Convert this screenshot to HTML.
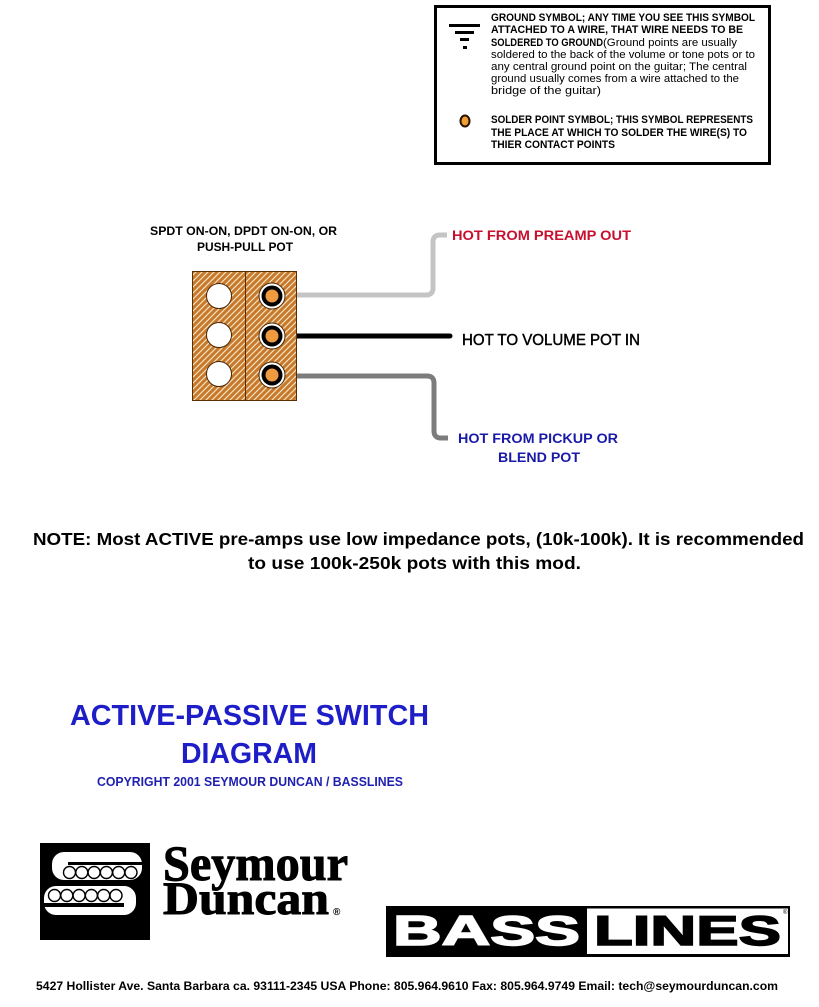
<!DOCTYPE html>
<html>
<head>
<meta charset="utf-8">
<style>
html,body{margin:0;padding:0;background:#fff;}
svg{display:block;}
text{font-family:"Liberation Sans","DejaVu Sans",sans-serif;}
.serif{font-family:"Liberation Serif","DejaVu Serif",serif;}
</style>
</head>
<body>
<svg width="819" height="1007" viewBox="0 0 819 1007" xmlns="http://www.w3.org/2000/svg">
<defs>
<pattern id="hatch" width="6" height="6" patternUnits="userSpaceOnUse">
<rect width="6" height="6" fill="#c8782a"/>
<path d="M-1,1 L1,-1 M0,6 L6,0 M5,7 L7,5" stroke="#f6e2c0" stroke-width="1.2"/>
</pattern>
</defs>
<rect width="819" height="1007" fill="#fff"/>

<!-- Legend box -->
<rect x="435.5" y="6.5" width="334" height="157" fill="none" stroke="#000" stroke-width="3"/>
<rect x="449" y="24" width="31" height="3" fill="#000"/>
<rect x="455" y="31" width="19" height="3" fill="#000"/>
<rect x="460" y="38" width="9" height="3" fill="#000"/>
<rect x="463" y="46" width="4" height="3" fill="#000"/>
<ellipse cx="465" cy="121" rx="4.5" ry="5.5" fill="#f0a030" stroke="#2a1000" stroke-width="2"/>

<g font-size="11" fill="#000">
<text x="491" y="21" font-weight="bold" textLength="264" lengthAdjust="spacingAndGlyphs">GROUND SYMBOL; ANY TIME YOU SEE THIS SYMBOL</text>
<text x="491" y="33" font-weight="bold" textLength="252" lengthAdjust="spacingAndGlyphs">ATTACHED TO A WIRE, THAT WIRE NEEDS TO BE</text>
<text x="491" y="46" font-weight="bold" textLength="112" lengthAdjust="spacingAndGlyphs">SOLDERED TO GROUND</text>
<text x="603" y="46" textLength="134" lengthAdjust="spacingAndGlyphs">(Ground points are usually</text>
<text x="491" y="58" textLength="264" lengthAdjust="spacingAndGlyphs">soldered to the back of the volume or tone pots or to</text>
<text x="491" y="70" textLength="256" lengthAdjust="spacingAndGlyphs">any central ground point on the guitar; The central</text>
<text x="491" y="82" textLength="248" lengthAdjust="spacingAndGlyphs">ground usually comes from a wire attached to the</text>
<text x="491" y="94" textLength="110" lengthAdjust="spacingAndGlyphs">bridge of the guitar)</text>
<text x="491" y="123" font-weight="bold" textLength="262" lengthAdjust="spacingAndGlyphs">SOLDER POINT SYMBOL; THIS SYMBOL REPRESENTS</text>
<text x="491" y="136" font-weight="bold" textLength="256" lengthAdjust="spacingAndGlyphs">THE PLACE AT WHICH TO SOLDER THE WIRE(S) TO</text>
<text x="491" y="148" font-weight="bold" textLength="124" lengthAdjust="spacingAndGlyphs">THIER CONTACT POINTS</text>
</g>

<!-- Switch labels -->
<g font-size="11.5" font-weight="bold" fill="#000">
<text x="150" y="235" textLength="187" lengthAdjust="spacingAndGlyphs">SPDT ON-ON, DPDT ON-ON, OR</text>
<text x="197" y="251" textLength="96" lengthAdjust="spacingAndGlyphs">PUSH-PULL POT</text>
</g>

<!-- Wires -->
<path d="M271,295 H426 Q433,295 433,288 V242 Q433,235 440,235 H447" fill="none" stroke="#c4c4c4" stroke-width="5"/>
<path d="M271,336 H450" fill="none" stroke="#000" stroke-width="5" stroke-linecap="round"/>
<path d="M271,376 H427 Q434,376 434,383 V431 Q434,438 441,438 H448" fill="none" stroke="#7c7c7c" stroke-width="5"/>

<!-- Switch body -->
<rect x="192.5" y="271.5" width="104" height="129" fill="url(#hatch)" stroke="#5a2e00" stroke-width="1"/>
<line x1="245.5" y1="271" x2="245.5" y2="401" stroke="#5a2e00" stroke-width="1"/>
<g fill="#fff" stroke="#4a2400" stroke-width="1">
<circle cx="219" cy="296" r="12.5"/>
<circle cx="219" cy="335" r="12.5"/>
<circle cx="219" cy="374" r="12.5"/>
<circle cx="272" cy="296" r="13"/>
<circle cx="272" cy="336" r="13"/>
<circle cx="272" cy="375" r="13"/>
</g>
<g fill="#000">
<circle cx="272" cy="296" r="10.5"/>
<circle cx="272" cy="336" r="10.5"/>
<circle cx="272" cy="375" r="10.5"/>
</g>
<g fill="#f09a40">
<circle cx="272" cy="296" r="6.5"/>
<circle cx="272" cy="336" r="6.5"/>
<circle cx="272" cy="375" r="6.5"/>
</g>

<!-- Wire labels -->
<text x="452" y="240" font-size="13.5" font-weight="bold" fill="#c8102e" textLength="179" lengthAdjust="spacingAndGlyphs">HOT FROM PREAMP OUT</text>
<text x="462" y="345" font-size="16" fill="#000" stroke="#000" stroke-width="0.45" textLength="178" lengthAdjust="spacingAndGlyphs">HOT TO VOLUME POT IN</text>
<text x="458" y="443" font-size="13.5" font-weight="bold" fill="#1a1aa8" textLength="160" lengthAdjust="spacingAndGlyphs">HOT FROM PICKUP OR</text>
<text x="498" y="462" font-size="13.5" font-weight="bold" fill="#1a1aa8" textLength="82" lengthAdjust="spacingAndGlyphs">BLEND POT</text>

<!-- Note -->
<g font-size="17.5" font-weight="bold" fill="#000">
<text x="33" y="545" textLength="771" lengthAdjust="spacingAndGlyphs">NOTE: Most ACTIVE pre-amps use low impedance pots, (10k-100k). It is recommended</text>
<text x="248" y="569" textLength="333" lengthAdjust="spacingAndGlyphs">to use 100k-250k pots with this mod.</text>
</g>

<!-- Title -->
<g fill="#1e1ec8" font-weight="bold">
<text x="70" y="725" font-size="29" textLength="359" lengthAdjust="spacingAndGlyphs">ACTIVE-PASSIVE SWITCH</text>
<text x="181" y="763" font-size="29" textLength="136" lengthAdjust="spacingAndGlyphs">DIAGRAM</text>
<text x="97" y="786" font-size="13" fill="#2020b0" textLength="306" lengthAdjust="spacingAndGlyphs">COPYRIGHT 2001 SEYMOUR DUNCAN / BASSLINES</text>
</g>

<!-- Seymour Duncan logo -->
<rect x="40" y="843" width="110" height="97" fill="#000"/>
<g fill="#fff">
<rect x="52" y="852" width="90" height="28" rx="12" ry="12"/>
<rect x="44" y="886" width="92" height="29" rx="12" ry="12"/>
</g>
<rect x="68" y="862" width="76" height="3" fill="#000"/>
<rect x="40" y="903" width="84" height="4" fill="#000"/>
<g fill="#fff" stroke="#000" stroke-width="1.4">
<circle cx="69.5" cy="872.5" r="6"/>
<circle cx="81.8" cy="872.5" r="6"/>
<circle cx="94.1" cy="872.5" r="6"/>
<circle cx="106.4" cy="872.5" r="6"/>
<circle cx="118.7" cy="872.5" r="6"/>
<circle cx="131" cy="872.5" r="6"/>
<circle cx="54.5" cy="895.5" r="6"/>
<circle cx="66.8" cy="895.5" r="6"/>
<circle cx="79.1" cy="895.5" r="6"/>
<circle cx="91.4" cy="895.5" r="6"/>
<circle cx="103.7" cy="895.5" r="6"/>
<circle cx="116" cy="895.5" r="6"/>
</g>
<g class="serif" font-weight="bold" fill="#000">
<text class="serif" x="163" y="880" font-size="50" textLength="185" lengthAdjust="spacingAndGlyphs" stroke="#000" stroke-width="1">Seymour</text>
<text class="serif" x="163" y="914" font-size="47" textLength="166" lengthAdjust="spacingAndGlyphs" stroke="#000" stroke-width="1">Duncan</text>
<text x="333" y="915" font-size="10">®</text>
</g>

<!-- Basslines logo -->
<rect x="386" y="906" width="404" height="51" fill="#000"/>
<rect x="587" y="908.5" width="201" height="45.5" fill="#fff"/>
<text x="393" y="945" font-size="42" font-weight="bold" fill="#fff" stroke="#fff" stroke-width="1.5" textLength="187" lengthAdjust="spacingAndGlyphs">BASS</text>
<text x="594" y="945" font-size="42" font-weight="bold" fill="#000" stroke="#000" stroke-width="1.5" textLength="187" lengthAdjust="spacingAndGlyphs">LINES</text>
<text x="783" y="914" font-size="6" fill="#000">®</text>

<!-- Footer -->
<text x="36" y="990" font-size="12" font-weight="bold" fill="#000" textLength="742" lengthAdjust="spacingAndGlyphs">5427 Hollister Ave. Santa Barbara ca. 93111-2345 USA  Phone: 805.964.9610  Fax: 805.964.9749   Email: tech@seymourduncan.com</text>
</svg>
</body>
</html>
